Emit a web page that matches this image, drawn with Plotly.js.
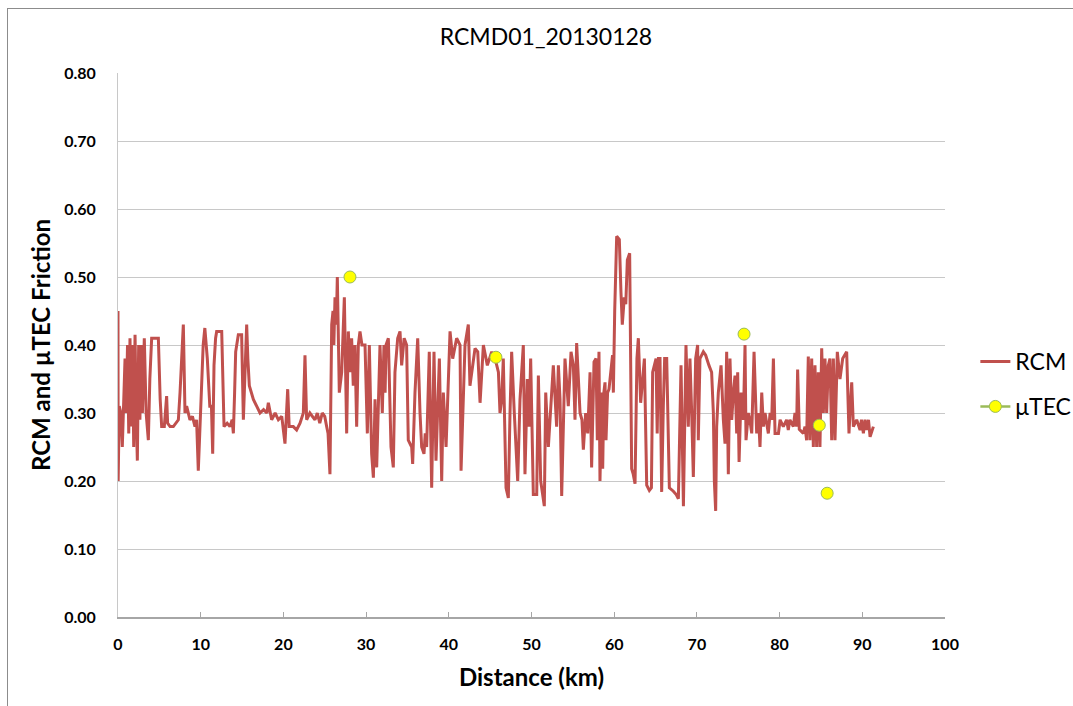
<!DOCTYPE html>
<html>
<head>
<meta charset="utf-8">
<script src="https://cdn.plot.ly/plotly-3.0.1.min.js"></script>
<style>
html,body{margin:0;padding:0;background:#fff;}
#wrap{position:relative;width:1073px;height:706px;}
#chart{position:absolute;left:0;top:0;width:1073px;height:706px;}
#frame{position:absolute;left:7px;top:8px;width:1080px;height:720px;border-top:1px solid #8c8c8c;border-left:1px solid #8c8c8c;pointer-events:none;}
</style>
</head>
<body>
<div id="wrap"><div id="chart"></div><div id="frame"></div></div>
<script>
var rcmDistance = [0,0.02,0.15,0.35,0.52,0.65,0.85,1.0,1.15,1.3,1.45,1.6,1.75,1.9,2.06,2.2,2.34,2.5,2.65,2.8,2.95,3.18,3.4,3.67,3.85,4.07,4.5,4.88,5.1,5.28,5.6,5.88,6.0,6.3,6.69,7.0,7.3,7.5,7.9,8.1,8.3,8.7,9.0,9.31,9.5,9.71,10.0,10.3,10.5,10.8,11.1,
11.3,11.45,11.61,11.8,11.93,12.54,12.82,13.2,13.54,13.8,13.95,14.1,14.23,14.55,14.95,15.16,15.4,15.56,15.7,15.88,16.37,16.8,17.17,17.6,18.0,18.18,18.58,19.0,19.39,19.8,20.19,20.52,20.7,21.2,21.6,22.01,22.41,22.61,22.81,
23.2,23.5,23.82,24.1,24.4,24.7,25.0,25.23,25.4,25.63,25.84,26.0,26.1,26.24,26.4,26.52,26.76,27.05,27.37,27.65,27.85,28.05,28.25,28.45,28.65,28.86,29.06,29.26,29.5,29.87,30.15,30.39,30.67,30.88,31.08,31.28,31.68,31.96,32.16,32.3,32.41,32.69,33.01,33.29,33.49,33.82,34.1,
34.3,34.6,34.9,35.1,35.51,35.63,35.91,36.24,36.52,36.72,37.0,37.15,37.32,37.64,37.93,38.21,38.45,38.86,39.14,39.34,39.67,40.15,40.47,40.95,41.36,41.48,41.96,42.36,42.56,43.17,43.5,43.78,44.18,44.66,45.19,45.6,
46.0,46.19,46.4,46.59,46.92,47.2,47.4,47.6,47.92,48.33,48.61,49.01,49.21,49.5,49.7,49.9,50.22,50.63,50.83,51.11,51.55,51.72,52.04,52.3,52.64,53.04,53.25,53.45,53.65,54.05,54.45,54.78,55.06,55.26,55.46,55.87,56.1,56.27,56.55,56.8,57.08,
57.27,57.56,57.8,57.96,58.16,58.28,58.49,58.61,58.75,58.89,59.01,59.2,59.37,59.69,59.8,59.9,60.06,60.3,60.62,60.82,60.98,61.22,61.4,61.59,61.87,62.11,62.3,62.52,62.75,62.92,63.2,63.65,63.93,64.25,64.5,64.65,65.06,65.2,65.35,65.54,65.74,65.94,66.1,66.35,66.67,67.15,67.5,67.76,68.08,68.37,68.57,
68.68,68.96,69.16,69.37,69.57,69.85,70.09,70.17,70.37,70.78,71.06,71.46,71.78,71.99,72.11,72.27,72.39,72.59,72.92,73.2,73.4,73.6,73.8,74.0,74.21,74.41,74.61,74.81,74.93,75.1,75.34,75.62,75.82,75.94,76.22,76.4,76.63,76.91,77.23,77.43,77.63,77.84,78.04,78.24,78.64,78.85,79.05,79.25,79.45,79.86,80.06,
80.45,80.85,81.05,81.25,81.66,81.86,82.06,82.18,82.38,82.87,83.07,83.27,83.47,83.67,83.88,84.08,84.28,84.48,84.68,84.88,85.09,85.29,85.49,85.69,85.89,86.09,86.3,86.5,86.7,86.98,87.3,87.63,88.11,88.39,88.51,88.72,88.92,89.32,89.73,89.9,90.13,90.33,90.53,90.75,90.94,91.34];

var rcmFriction = [0.45,0.20,0.31,0.30,0.25,0.31,0.38,0.30,0.40,0.27,0.41,0.28,0.40,0.25,0.415,0.30,0.23,0.40,0.29,0.40,0.30,0.41,0.30,0.26,0.35,0.41,0.41,0.41,0.32,0.28,0.28,0.325,0.285,0.28,0.28,0.285,0.29,0.33,0.43,0.30,0.31,0.29,0.295,0.28,0.29,0.215,0.32,0.40,0.425,0.38,0.31,
0.31,0.24,0.37,0.41,0.42,0.42,0.28,0.285,0.28,0.29,0.27,0.33,0.39,0.415,0.415,0.29,0.37,0.43,0.38,0.34,0.32,0.31,0.30,0.305,0.30,0.315,0.29,0.30,0.29,0.295,0.255,0.335,0.28,0.28,0.275,0.285,0.30,0.385,0.29,
0.30,0.295,0.29,0.30,0.285,0.30,0.295,0.28,0.27,0.21,0.43,0.45,0.40,0.47,0.43,0.50,0.33,0.36,0.47,0.27,0.42,0.36,0.41,0.34,0.40,0.28,0.40,0.42,0.40,0.40,0.27,0.40,0.24,0.205,0.32,0.22,0.40,0.30,0.40,0.33,0.40,0.41,0.25,0.22,0.36,0.41,0.42,
0.37,0.41,0.40,0.26,0.25,0.225,0.33,0.41,0.30,0.25,0.24,0.27,0.25,0.39,0.19,0.39,0.23,0.38,0.20,0.33,0.25,0.42,0.38,0.41,0.40,0.215,0.40,0.43,0.34,0.395,0.39,0.315,0.40,0.37,0.39,0.38,
0.36,0.30,0.32,0.38,0.19,0.175,0.30,0.39,0.30,0.20,0.32,0.40,0.21,0.35,0.28,0.38,0.18,0.18,0.355,0.20,0.163,0.33,0.25,0.30,0.37,0.28,0.37,0.32,0.178,0.38,0.31,0.39,0.37,0.29,0.403,0.30,0.29,0.246,0.30,0.27,0.36,
0.22,0.375,0.38,0.26,0.39,0.20,0.33,0.218,0.33,0.345,0.26,0.33,0.335,0.37,0.385,0.33,0.45,0.56,0.555,0.477,0.43,0.47,0.46,0.525,0.535,0.218,0.21,0.196,0.38,0.41,0.315,0.38,0.194,0.186,0.19,0.36,0.38,0.27,0.38,0.38,0.184,0.31,0.38,0.38,0.19,0.185,0.18,0.174,0.37,0.163,0.37,
0.40,0.28,0.38,0.30,0.206,0.38,0.40,0.26,0.38,0.39,0.385,0.37,0.36,0.30,0.20,0.156,0.28,0.33,0.37,0.29,0.255,0.39,0.21,0.38,0.29,0.33,0.355,0.27,0.36,0.228,0.33,0.29,0.40,0.26,0.30,0.29,0.27,0.39,0.27,0.30,0.25,0.33,0.28,0.30,0.27,0.30,0.29,0.38,0.27,0.27,0.29,
0.28,0.29,0.275,0.29,0.28,0.30,0.28,0.364,0.276,0.27,0.28,0.26,0.383,0.26,0.38,0.25,0.37,0.25,0.36,0.25,0.395,0.30,0.38,0.30,0.37,0.38,0.26,0.38,0.26,0.39,0.35,0.38,0.39,0.27,0.30,0.345,0.28,0.29,0.275,0.29,0.27,0.29,0.275,0.29,0.265,0.28];

var utecDistance = [28.05, 45.7, 75.7, 84.8, 85.75];
var utecFriction = [0.500, 0.382, 0.416, 0.282, 0.182];

var xTickValues = [0,10,20,30,40,50,60,70,80,90,100];
var yTickValues = [0,0.1,0.2,0.3,0.4,0.5,0.6,0.7,0.8];
var yTickLabels = ['0.00','0.10','0.20','0.30','0.40','0.50','0.60','0.70','0.80'];

// separate μTEC points with gaps so they are not joined but the legend shows line + marker
var ux = [], uy = [];
for (var i = 0; i < utecDistance.length; i++) {
  if (i > 0) { ux.push(null); uy.push(null); }
  ux.push(utecDistance[i]); uy.push(utecFriction[i]);
}

var traces = [
  {x: rcmDistance, y: rcmFriction, name: 'RCM', type: 'scatter', mode: 'lines', legendgroup: 'a',
   line: {color: '#C0504D', width: 3}},
  {x: ux, y: uy, name: 'μTEC', type: 'scatter', mode: 'lines+markers', connectgaps: false, legendgroup: 'b',
   line: {color: '#9BBB59', width: 2.5},
   marker: {color: '#FFFF00', size: 12, line: {color: '#9BBB59', width: 1}}}
];

var fontFam = 'Lato, "Open Sans", "Liberation Sans", sans-serif';

var layout = {
  width: 1073, height: 706,
  margin: {l: 118, r: 128, t: 73, b: 89},
  paper_bgcolor: '#ffffff', plot_bgcolor: '#ffffff',
  title: {text: 'RCMD01_20130128', font: {family: fontFam, size: 23, color: '#000'},
          x: 0.5175, xref: 'paper', xanchor: 'center', y: 0.948, yref: 'container', yanchor: 'middle'},
  showlegend: true,
  legend: {xref: 'container', yref: 'container', x: 0.909, xanchor: 'left', y: 0.456, yanchor: 'middle',
           font: {family: fontFam, size: 23, color: '#000'}, tracegroupgap: 12, itemwidth: 30, bgcolor: 'rgba(0,0,0,0)'},
  xaxis: {
    range: [0, 100], tickvals: xTickValues, ticktext: xTickValues.map(String),
    showgrid: false, zeroline: false,
    showline: true, linecolor: '#A6A6A6', linewidth: 1.5,
    ticks: 'inside', ticklen: 5, tickcolor: '#A6A6A6', tickwidth: 1,
    tickfont: {family: fontFam, size: 16, color: '#000', weight: 'bold'},
    ticklabelstandoff: 12,
    title: {text: '<b>Distance (km)</b>', font: {family: fontFam, size: 24, color: '#000'}, standoff: 17},
    fixedrange: true
  },
  yaxis: {
    range: [0, 0.8], tickvals: yTickValues, ticktext: yTickLabels,
    showgrid: true, gridcolor: '#C8C8C8', gridwidth: 1,
    zeroline: false, showline: true, linecolor: '#C8C8C8', linewidth: 1,
    ticks: '', tickfont: {family: fontFam, size: 16, color: '#000', weight: 'bold'},
    ticklabelstandoff: 18,
    title: {text: '<b>RCM and µTEC Friction</b>', font: {family: fontFam, size: 24, color: '#000'}, standoff: 6},
    fixedrange: true
  }
};

Plotly.newPlot('chart', traces, layout, {displayModeBar: false, staticPlot: true});
</script>
</body>
</html>
